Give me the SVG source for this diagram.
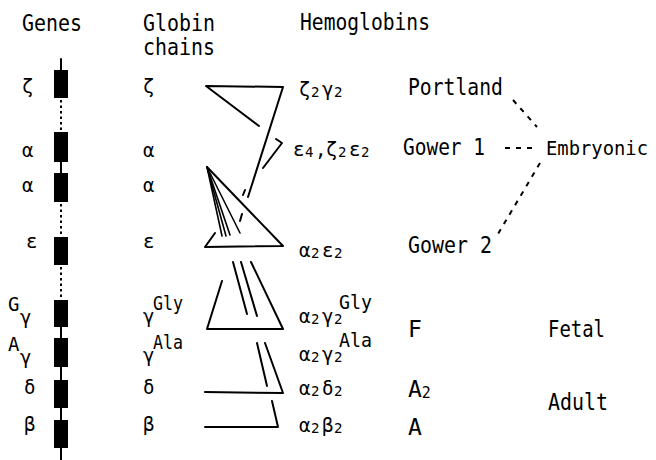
<svg xmlns="http://www.w3.org/2000/svg" width="656" height="460" viewBox="0 0 656 460">
<style>
text{font-family:"DejaVu Sans Mono","Liberation Mono",monospace;fill:#000}
.t{font-size:23px}
.s{font-size:19px}
.gk{font-size:19px}
.hg{font-size:19px}
.sb{font-size:14px}
.ln{stroke:#000;stroke-width:2;fill:none;stroke-linecap:round;stroke-linejoin:round}
.thin{stroke:#000;stroke-width:1.6;fill:none;stroke-linecap:round}
.dot{stroke:#000;stroke-width:2;fill:none;stroke-dasharray:2.5 3}
.dash{stroke:#000;stroke-width:2;fill:none;stroke-dasharray:5 6}
.box{fill:#000}
</style>
<rect width="656" height="460" fill="#fff"/>

<g id="headers">
<text class="t" x="22" y="31" textLength="60" lengthAdjust="spacingAndGlyphs">Genes</text>
<text class="t" x="143" y="31" textLength="72" lengthAdjust="spacingAndGlyphs">Globin</text>
<text class="t" x="143" y="55" textLength="72" lengthAdjust="spacingAndGlyphs">chains</text>
<text class="t" x="300" y="30" textLength="130" lengthAdjust="spacingAndGlyphs">Hemoglobins</text>
</g>

<g id="gene-map">
<line class="ln" x1="61" y1="59" x2="61" y2="70"/>
<line class="dot" x1="61" y1="100" x2="61" y2="132"/>
<line class="ln" x1="61" y1="162" x2="61" y2="173"/>
<line class="dot" x1="61" y1="204" x2="61" y2="237"/>
<line class="dot" x1="61" y1="267" x2="61" y2="300"/>
<line class="ln" x1="61" y1="327" x2="61" y2="460"/>
<rect class="box" x="54" y="70" width="14" height="28"/>
<rect class="box" x="54" y="132" width="14" height="30"/>
<rect class="box" x="54" y="173" width="14" height="29"/>
<rect class="box" x="54" y="237" width="14" height="28"/>
<rect class="box" x="54" y="300" width="14" height="27"/>
<rect class="box" x="54" y="338" width="14" height="29"/>
<rect class="box" x="54" y="380" width="14" height="28"/>
<rect class="box" x="54" y="420" width="14" height="28"/>
</g>

<g id="gene-labels">
<text class="gk" x="22" y="93">ζ</text>
<text class="gk" x="22" y="157">α</text>
<text class="gk" x="22" y="192">α</text>
<text class="gk" x="26" y="248">ε</text>
<text class="s" x="8" y="311">G</text><text class="gk" x="20" y="324">γ</text>
<text class="s" x="8" y="351">A</text><text class="gk" x="20" y="364">γ</text>
<text class="gk" x="24" y="394">δ</text>
<text class="gk" x="24" y="431">β</text>
</g>

<g id="chain-labels">
<text class="gk" x="143" y="93">ζ</text>
<text class="gk" x="143" y="157">α</text>
<text class="gk" x="143" y="192">α</text>
<text class="gk" x="143" y="248">ε</text>
<text class="gk" x="143" y="323">γ</text><text class="s" x="153" y="310" textLength="30" lengthAdjust="spacingAndGlyphs">Gly</text>
<text class="gk" x="143" y="362">γ</text><text class="s" x="153" y="349" textLength="30" lengthAdjust="spacingAndGlyphs">Ala</text>
<text class="gk" x="143" y="394">δ</text>
<text class="gk" x="143" y="431">β</text>
</g>

<g id="hemoglobins">
<text class="hg" y="96"><tspan x="299">ζ</tspan><tspan class="sb" x="311" dy="1">2</tspan><tspan x="322" dy="-1">γ</tspan><tspan class="sb" x="334" dy="1">2</tspan></text>
<text class="hg" y="156"><tspan x="293">ε</tspan><tspan class="sb" x="305" dy="1">4</tspan><tspan x="315" dy="-1">,</tspan><tspan x="326">ζ</tspan><tspan class="sb" x="338" dy="1">2</tspan><tspan x="349" dy="-1">ε</tspan><tspan class="sb" x="361" dy="1">2</tspan></text>
<text class="hg" y="257"><tspan x="299">α</tspan><tspan class="sb" x="311" dy="1">2</tspan><tspan x="322" dy="-1">ε</tspan><tspan class="sb" x="334" dy="1">2</tspan></text>
<text class="hg" y="323"><tspan x="299">α</tspan><tspan class="sb" x="311" dy="1">2</tspan><tspan x="322" dy="-1">γ</tspan><tspan class="sb" x="334" dy="1">2</tspan></text>
<text class="s" x="339" y="309" textLength="33" lengthAdjust="spacingAndGlyphs">Gly</text>
<text class="hg" y="361"><tspan x="299">α</tspan><tspan class="sb" x="311" dy="1">2</tspan><tspan x="322" dy="-1">γ</tspan><tspan class="sb" x="334" dy="1">2</tspan></text>
<text class="s" x="339" y="347" textLength="33" lengthAdjust="spacingAndGlyphs">Ala</text>
<text class="hg" y="395"><tspan x="299">α</tspan><tspan class="sb" x="311" dy="1">2</tspan><tspan x="322" dy="-1">δ</tspan><tspan class="sb" x="334" dy="1">2</tspan></text>
<text class="hg" y="432"><tspan x="299">α</tspan><tspan class="sb" x="311" dy="1">2</tspan><tspan x="322" dy="-1">β</tspan><tspan class="sb" x="334" dy="1">2</tspan></text>
</g>

<g id="names">
<text class="t" x="408" y="95" textLength="95" lengthAdjust="spacingAndGlyphs">Portland</text>
<text class="t" x="403" y="155" textLength="82" lengthAdjust="spacingAndGlyphs">Gower 1</text>
<text class="t" x="546" y="155" style="font-size:19px" textLength="102" lengthAdjust="spacingAndGlyphs">Embryonic</text>
<text class="t" x="408" y="253" textLength="84" lengthAdjust="spacingAndGlyphs">Gower 2</text>
<text class="t" x="408" y="337">F</text>
<text class="t" x="548" y="337" textLength="57" lengthAdjust="spacingAndGlyphs">Fetal</text>
<text class="t" x="408" y="397">A<tspan style="font-size:15px" dy="1">2</tspan></text>
<text class="t" x="408" y="435">A</text>
<text class="t" x="548" y="410" textLength="60" lengthAdjust="spacingAndGlyphs">Adult</text>
</g>

<g id="connectors">
<polyline class="ln" points="259,126 206,86 283,87 248,197"/>
<line class="ln" x1="242" y1="214" x2="240" y2="221"/>
<polyline class="ln" points="276,139 282,143 263,168"/>
<line class="ln" x1="245" y1="190" x2="243" y2="195"/>
<polyline class="ln" points="215,233 205,247 283,246 207,167"/>
<line class="thin" x1="207" y1="167" x2="222" y2="236"/>
<line class="thin" x1="207" y1="167" x2="226" y2="236"/>
<line class="thin" x1="207" y1="167" x2="230" y2="235"/>
<line class="thin" x1="207" y1="167" x2="240" y2="233"/>
<line class="ln" x1="233" y1="262" x2="247" y2="314"/>
<line class="ln" x1="241" y1="262" x2="257" y2="316"/>
<polyline class="ln" points="251,262 283,329 207,329 222,281"/>
<line class="ln" x1="257" y1="343" x2="267" y2="386"/>
<polyline class="ln" points="265,343 283,393 205,392"/>
<polyline class="ln" points="205,427 278,427 272,401"/>
<line class="dash" x1="505" y1="148" x2="533" y2="148"/>
<line class="dash" x1="513" y1="100" x2="537" y2="127"/>
<line class="dash" x1="540" y1="163" x2="498" y2="234" stroke-dasharray="4 5"/>
</g>
</svg>
